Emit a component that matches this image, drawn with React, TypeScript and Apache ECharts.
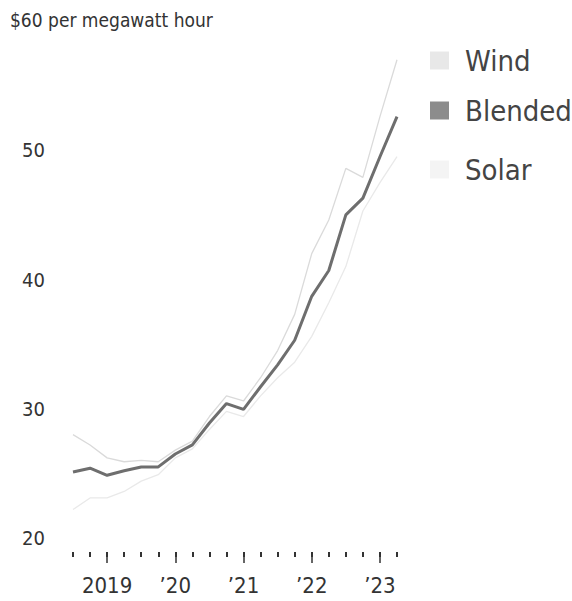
import React, { useEffect, useRef } from "react";
import * as echarts from "echarts";

const quarters = [
  "Q3 2018", "Q4 2018", "Q1 2019", "Q2 2019", "Q3 2019", "Q4 2019",
  "Q1 2020", "Q2 2020", "Q3 2020", "Q4 2020", "Q1 2021", "Q2 2021",
  "Q3 2021", "Q4 2021", "Q1 2022", "Q2 2022", "Q3 2022", "Q4 2022",
  "Q1 2023", "Q2 2023",
];
const yearLabels = ["2019", "\u201920", "\u201921", "\u201922", "\u201923"];
const windValues = [28.0, 27.2, 26.2, 25.9, 26.0, 25.9, 26.8, 27.5, 29.4, 31.0, 30.6, 32.4, 34.5, 37.3, 42.0, 44.6, 48.6, 47.9, 52.6, 57.0];
const blendedValues = [25.1, 25.4, 24.85, 25.2, 25.5, 25.5, 26.5, 27.2, 28.9, 30.4, 29.95, 31.7, 33.4, 35.3, 38.7, 40.7, 45.0, 46.3, 49.5, 52.6];
const solarValues = [22.2, 23.1, 23.1, 23.6, 24.4, 24.9, 26.2, 26.9, 28.4, 29.8, 29.4, 31.0, 32.4, 33.6, 35.6, 38.2, 41.0, 45.3, 47.5, 49.5];

const FONT = "'DejaVu Sans Condensed', 'Liberation Sans Narrow', 'Liberation Sans', sans-serif";
const isMajor = (i: number) => i % 4 === 2;

export default function App() {
  const ref = useRef<HTMLDivElement>(null);
  useEffect(() => {
    if (!ref.current) return;
    const chart = echarts.init(ref.current, null, { renderer: "svg" });
    const legendBase = (name: string, color: string, top: number) => ({
      data: [{ name, itemStyle: { color } }],
      left: 430,
      top,
      padding: 0,
      icon: "rect",
      itemWidth: 19,
      itemHeight: 18,
      selectedMode: false,
      textStyle: {
        fontSize: 29,
        color: "#444",
        fontFamily: FONT,
        padding: [0, 0, 0, 11],
      },
    });
    chart.setOption({
      animation: false,
      backgroundColor: "#fff",
      title: {
        text: "$60 per megawatt hour",
        left: 10,
        top: 10,
        padding: 0,
        textStyle: { fontSize: 19, fontWeight: "normal", color: "#333", fontFamily: FONT },
      },
      legend: [
        legendBase("Wind", "#e8e8e8", 46),
        legendBase("Blended", "#8c8c8c", 96),
        legendBase("Solar", "#f4f4f4", 155),
      ],
      grid: { left: 73, right: 175, top: 21, bottom: 63, containLabel: false },
      xAxis: [
        {
          type: "category",
          data: quarters,
          boundaryGap: false,
          position: "bottom",
          offset: 14,
          axisLine: { show: false },
          axisTick: { show: true, interval: 0, length: 5, lineStyle: { color: "#333", width: 2 } },
          axisLabel: { show: false },
          splitLine: { show: false },
        },
        {
          type: "category",
          data: quarters,
          boundaryGap: false,
          position: "bottom",
          offset: 14,
          axisLine: { show: false },
          axisTick: {
            show: true,
            interval: (i: number) => isMajor(i),
            length: 11,
            lineStyle: { color: "#333", width: 1.5 },
          },
          axisLabel: {
            show: true,
            interval: (i: number) => isMajor(i),
            margin: 22,
            fontSize: 22,
            color: "#333",
            fontFamily: FONT,
            formatter: (_v: string, i: number) => (isMajor(i) ? yearLabels[(i - 2) / 4] : ""),
          },
          splitLine: { show: false },
        },
      ],
      yAxis: {
        type: "value",
        min: 20,
        max: 60,
        interval: 10,
        axisLine: { show: false },
        axisTick: { show: false },
        splitLine: { show: false },
        axisLabel: {
          align: "left",
          margin: 51,
          fontSize: 20,
          color: "#333",
          fontFamily: FONT,
          formatter: (v: number) => (v === 60 ? "" : String(v)),
        },
      },
      series: [
        {
          name: "Wind",
          type: "line",
          data: windValues,
          symbol: "none",
          color: "#dadada",
          lineStyle: { color: "#dadada", width: 1.3 },
        },
        {
          name: "Solar",
          type: "line",
          data: solarValues,
          symbol: "none",
          color: "#e9e9e9",
          lineStyle: { color: "#e9e9e9", width: 1.3 },
        },
        {
          name: "Blended",
          type: "line",
          data: blendedValues,
          symbol: "none",
          color: "#6e6e6e",
          lineStyle: { color: "#6e6e6e", width: 3 },
        },
      ],
    });
    return () => chart.dispose();
  }, []);
  return (
    <div
      ref={ref}
      style={{ position: "fixed", left: 0, top: 0, width: 572, height: 601, background: "#fff" }}
    />
  );
}
